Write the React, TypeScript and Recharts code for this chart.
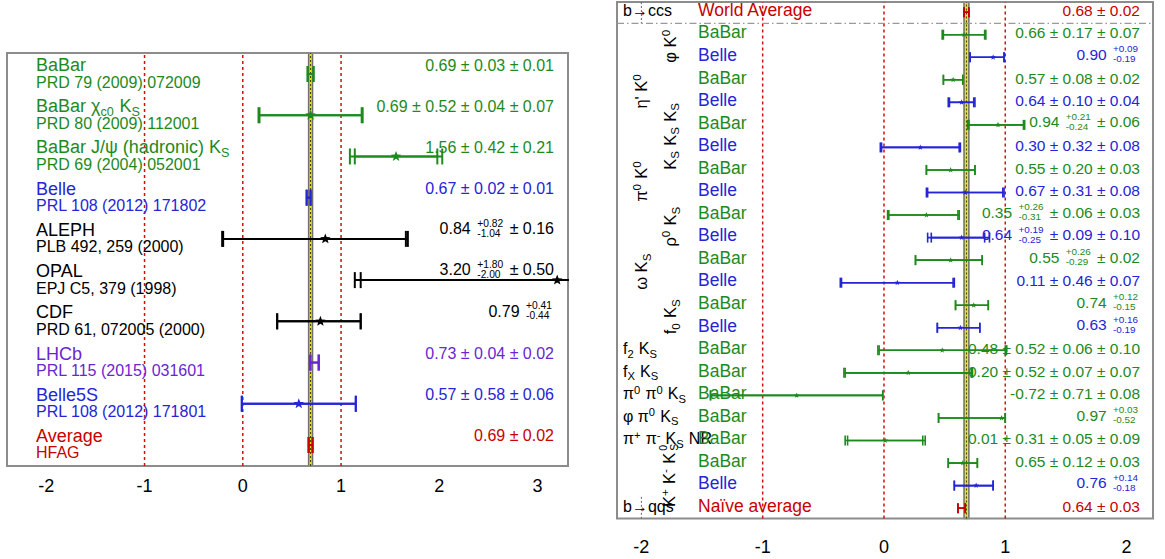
import React from "react";
import {
  ScatterChart,
  Scatter,
  XAxis,
  YAxis,
  ErrorBar,
  ReferenceLine,
  ReferenceArea,
} from "recharts";

// ---------- left panel data ----------
const leftNames = [
  "BaBar",
  "BaBar χ_{c0} K_{S}",
  "BaBar J/ψ (hadronic) K_{S}",
  "Belle",
  "ALEPH",
  "OPAL",
  "CDF",
  "LHCb",
  "Belle5S",
  "Average",
];
const leftRefs = [
  "PRD 79 (2009) 072009",
  "PRD 80 (2009) 112001",
  "PRD 69 (2004) 052001",
  "PRL 108 (2012) 171802",
  "PLB 492, 259 (2000)",
  "EPJ C5, 379 (1998)",
  "PRD 61, 072005 (2000)",
  "PRL 115 (2015) 031601",
  "PRL 108 (2012) 171801",
  "HFAG",
];
const leftValues = [0.69, 0.69, 1.56, 0.67, 0.84, 3.2, 0.79, 0.73, 0.57, 0.69];
// [minus, plus]
const leftStatErr = [
  [0.03, 0.03], [0.52, 0.52], [0.42, 0.42], [0.02, 0.02], [1.04, 0.82],
  [2.0, 1.8], [0.44, 0.41], [0.04, 0.04], [0.58, 0.58], [0.02, 0.02],
];
const leftTotalErr = [
  [0.03, 0.03], [0.53, 0.53], [0.47, 0.47], [0.02, 0.02], [1.05, 0.84],
  [2.06, 1.87], [0.44, 0.41], [0.045, 0.045], [0.58, 0.58], [0.02, 0.02],
];
const leftTexts = [
  "0.69 ± 0.03 ± 0.01",
  "0.69 ± 0.52 ± 0.04 ± 0.07",
  "1.56 ± 0.42 ± 0.21",
  "0.67 ± 0.02 ± 0.01",
  "0.84 ^{+0.82}_{-1.04} ± 0.16",
  "3.20 ^{+1.80}_{-2.00} ± 0.50",
  "0.79 ^{+0.41}_{-0.44}",
  "0.73 ± 0.04 ± 0.02",
  "0.57 ± 0.58 ± 0.06",
  "0.69 ± 0.02",
];
const leftTicks = [-2, -1, 0, 1, 2, 3];
const leftAverage = [0.67, 0.69, 0.71];

// ---------- right panel data ----------
const rightModes = [
  "b→ccs",
  "φ K^{0}", "φ K^{0}",
  "η' K^{0}", "η' K^{0}",
  "K_{S} K_{S} K_{S}", "K_{S} K_{S} K_{S}",
  "π^{0} K^{0}", "π^{0} K^{0}",
  "ρ^{0} K_{S}", "ρ^{0} K_{S}",
  "ω K_{S}", "ω K_{S}",
  "f_{0} K_{S}", "f_{0} K_{S}",
  "f_{2} K_{S}",
  "f_{X} K_{S}",
  "π^{0} π^{0} K_{S}",
  "φ π^{0} K_{S}",
  "π^{+} π^{-} K_{S} NR",
  "K^{+} K^{-} K^{0}_{S}", "K^{+} K^{-} K^{0}_{S}",
  "b→qqs",
];
const rightExperiments = [
  "World Average",
  "BaBar", "Belle", "BaBar", "Belle", "BaBar", "Belle", "BaBar", "Belle",
  "BaBar", "Belle", "BaBar", "Belle", "BaBar", "Belle",
  "BaBar", "BaBar", "BaBar", "BaBar", "BaBar",
  "BaBar", "Belle",
  "Naïve average",
];
const rightValues = [
  0.68, 0.66, 0.9, 0.57, 0.64, 0.94, 0.3, 0.55, 0.67, 0.35, 0.64, 0.55,
  0.11, 0.74, 0.63, 0.48, 0.2, -0.72, 0.97, 0.01, 0.65, 0.76, 0.64,
];
const rightStatErr = [
  [0.02, 0.02], [0.17, 0.17], [0.19, 0.09], [0.08, 0.08], [0.1, 0.1],
  [0.24, 0.21], [0.32, 0.32], [0.2, 0.2], [0.31, 0.31], [0.31, 0.26],
  [0.25, 0.19], [0.29, 0.26], [0.46, 0.46], [0.15, 0.12], [0.19, 0.16],
  [0.52, 0.52], [0.52, 0.52], [0.71, 0.71], [0.52, 0.03], [0.31, 0.31],
  [0.12, 0.12], [0.18, 0.14], [0.03, 0.03],
];
const rightTotalErr = [
  [0.02, 0.02], [0.18, 0.18], [0.19, 0.09], [0.08, 0.08], [0.11, 0.11],
  [0.25, 0.22], [0.33, 0.33], [0.2, 0.2], [0.32, 0.32], [0.32, 0.27],
  [0.28, 0.23], [0.29, 0.26], [0.47, 0.47], [0.15, 0.12], [0.19, 0.16],
  [0.53, 0.53], [0.53, 0.53], [0.71, 0.71], [0.52, 0.03], [0.33, 0.33],
  [0.12, 0.12], [0.18, 0.14], [0.03, 0.03],
];
const rightTexts = [
  "0.68 ± 0.02",
  "0.66 ± 0.17 ± 0.07",
  "0.90 ^{+0.09}_{-0.19}",
  "0.57 ± 0.08 ± 0.02",
  "0.64 ± 0.10 ± 0.04",
  "0.94 ^{+0.21}_{-0.24} ± 0.06",
  "0.30 ± 0.32 ± 0.08",
  "0.55 ± 0.20 ± 0.03",
  "0.67 ± 0.31 ± 0.08",
  "0.35 ^{+0.26}_{-0.31} ± 0.06 ± 0.03",
  "0.64 ^{+0.19}_{-0.25} ± 0.09 ± 0.10",
  "0.55 ^{+0.26}_{-0.29} ± 0.02",
  "0.11 ± 0.46 ± 0.07",
  "0.74 ^{+0.12}_{-0.15}",
  "0.63 ^{+0.16}_{-0.19}",
  "0.48 ± 0.52 ± 0.06 ± 0.10",
  "0.20 ± 0.52 ± 0.07 ± 0.07",
  "-0.72 ± 0.71 ± 0.08",
  "0.97 ^{+0.03}_{-0.52}",
  "0.01 ± 0.31 ± 0.05 ± 0.09",
  "0.65 ± 0.12 ± 0.03",
  "0.76 ^{+0.14}_{-0.18}",
  "0.64 ± 0.03",
];
const rightTicks = [-2, -1, 0, 1, 2];
const rightAverage = [0.66, 0.68, 0.7];

// ---------- style ----------
const FONT = '"Liberation Sans", Arial, Helvetica, sans-serif';
const GREEN = "#1d8a1d";
const BLUE = "#2525d6";
const PURPLE = "#6a26d2";
const RED = "#c80000";
const BLACK = "#000000";
const FRAME = "#8c8c8c";
const DASH_RED = "#d21010";
const OUTER_MODES = new Set(["η' K^{0}", "π^{0} K^{0}", "ω K_{S}"]);
// mirrored left axes are stacked by their default width
const AXIS_W = 60;

const colorOf = (name: string) => {
  if (name.startsWith("BaBar")) return GREEN;
  if (name.startsWith("Belle")) return BLUE;
  if (name.startsWith("LHCb")) return PURPLE;
  if (/average/i.test(name)) return RED;
  return BLACK;
};

const leftRows = leftNames.map((name, i) => ({
  name,
  ref: leftRefs[i],
  x: leftValues[i],
  y: i,
  stat: leftStatErr[i],
  tot: leftTotalErr[i],
  text: leftTexts[i],
  color: colorOf(name),
}));

const rightRows = rightExperiments.map((name, i) => ({
  name,
  mode: rightModes[i],
  x: rightValues[i],
  y: i,
  stat: rightStatErr[i],
  tot: rightTotalErr[i],
  text: rightTexts[i],
  color: colorOf(name),
}));

type Group = { mode: string; first: number; last: number };
const rightGroups: Group[] = [];
rightModes.forEach((m, i) => {
  const g = rightGroups[rightGroups.length - 1];
  if (g && g.mode === m) g.last = i;
  else rightGroups.push({ mode: m, first: i, last: i });
});
const groupCenter = (g: Group) => (g.first + g.last) / 2;

// ---------- tiny TLatex-ish markup ----------
const supStyle: React.CSSProperties = { fontSize: "0.7em", position: "relative", top: "-0.5em", lineHeight: 0, marginRight: "0.06em" };
const subStyle: React.CSSProperties = { fontSize: "0.7em", position: "relative", top: "0.3em", lineHeight: 0, marginRight: "0.06em" };
const stackStyle: React.CSSProperties = {
  display: "inline-flex",
  flexDirection: "column",
  fontSize: "0.64em",
  lineHeight: 1.0,
  verticalAlign: "middle",
  margin: "0 0.2em",
  position: "relative",
  top: "-0.15em",
};

function readGroup(s: string, j: number): [string, number] {
  let depth = 0;
  for (let m = j; m < s.length; m++) {
    if (s[m] === "{") depth++;
    else if (s[m] === "}") {
      depth--;
      if (depth === 0) return [s.slice(j + 1, m), m + 1];
    }
  }
  return [s.slice(j + 1), s.length];
}

function tex(s: string): React.ReactNode[] {
  const out: React.ReactNode[] = [];
  let buf = "";
  let i = 0;
  let k = 0;
  while (i < s.length) {
    const c = s[i];
    if ((c === "^" || c === "_") && s[i + 1] === "{") {
      if (buf) out.push(buf);
      buf = "";
      const [g1, n1] = readGroup(s, i + 1);
      const other = c === "^" ? "_" : "^";
      if (s[n1] === other && s[n1 + 1] === "{") {
        const [g2, n2] = readGroup(s, n1 + 1);
        const sup = c === "^" ? g1 : g2;
        const sub = c === "^" ? g2 : g1;
        out.push(
          <span key={k++} style={stackStyle}>
            <span>{sup}</span>
            <span>{sub}</span>
          </span>
        );
        i = n2;
      } else {
        out.push(
          <span key={k++} style={c === "^" ? supStyle : subStyle}>
            {g1}
          </span>
        );
        i = n1;
      }
    } else {
      buf += c;
      i++;
    }
  }
  if (buf) out.push(buf);
  return out;
}

function Html(props: {
  x: number;
  y: number;
  anchor: "start" | "end" | "middle";
  size: number;
  color: string;
  children: React.ReactNode;
}) {
  const { x, y, anchor, size, color, children } = props;
  const w = 440;
  const h = 36;
  const left = anchor === "start" ? x : anchor === "end" ? x - w : x - w / 2;
  return (
    <foreignObject x={left} y={y - h / 2} width={w} height={h}>
      <div
        style={{
          width: w,
          height: h,
          display: "flex",
          alignItems: "center",
          justifyContent: anchor === "start" ? "flex-start" : anchor === "end" ? "flex-end" : "center",
          fontFamily: FONT,
          fontSize: size,
          color,
          whiteSpace: "nowrap",
          lineHeight: 1,
        }}
      >
        <span>{children}</span>
      </div>
    </foreignObject>
  );
}

function starPath(cx: number, cy: number, r: number) {
  let d = "";
  for (let k = 0; k < 10; k++) {
    const rr = k % 2 === 0 ? r : r * 0.42;
    const a = -Math.PI / 2 + (k * Math.PI) / 5;
    d += (k === 0 ? "M" : "L") + (cx + rr * Math.cos(a)).toFixed(2) + "," + (cy + rr * Math.sin(a)).toFixed(2);
  }
  return d + "Z";
}

const makeStar = (r: number, color: string, show: boolean) => (p: any) =>
  show && p.cx != null ? <path d={starPath(p.cx, p.cy, r)} fill={color} /> : <g />;

// ---------- ticks ----------
const LeftNameTick = (p: any) => {
  const r = leftRows[Math.round(p.payload.value)];
  if (!r) return null;
  return (
    <g>
      <Html x={p.x + 29} y={p.y - 9} anchor="start" size={18} color={r.color}>
        {tex(r.name)}
      </Html>
      <Html x={p.x + 29} y={p.y + 8.5} anchor="start" size={16} color={r.color}>
        {r.ref}
      </Html>
    </g>
  );
};

const LeftValueTick = (p: any) => {
  const r = leftRows[Math.round(p.payload.value)];
  if (!r) return null;
  return (
    <Html x={p.x - 14} y={p.y - 8.5} anchor="end" size={16} color={r.color}>
      {tex(r.text)}
    </Html>
  );
};

// names axis is the second mirrored left axis, so it sits AXIS_W to the right
const RightNameTick = (p: any) => {
  const r = rightRows[Math.round(p.payload.value)];
  if (!r) return null;
  return (
    <Html x={p.x - AXIS_W + 81} y={p.y - 1.5} anchor="start" size={17.5} color={r.color}>
      {r.name}
    </Html>
  );
};

const RightValueTick = (p: any) => {
  const r = rightRows[Math.round(p.payload.value)];
  if (!r) return null;
  return (
    <Html x={p.x - 13} y={p.y - 1.5} anchor="end" size={15.5} color={r.color}>
      {tex(r.text)}
    </Html>
  );
};

const RightModeTick = (p: any) => {
  const g = rightGroups.find((gg) => Math.abs(groupCenter(gg) - p.payload.value) < 1e-6);
  if (!g) return null;
  if (g.last > g.first) {
    const cx = p.x + (OUTER_MODES.has(g.mode) ? 24 : 53);
    return (
      <g transform={`rotate(-90 ${cx} ${p.y})`}>
        <Html x={cx} y={p.y} anchor="middle" size={16.5} color={BLACK}>
          {tex(g.mode)}
        </Html>
      </g>
    );
  }
  return (
    <Html x={p.x + 6} y={p.y - 1} anchor="start" size={16} color={BLACK}>
      {tex(g.mode)}
    </Html>
  );
};

// ---------- charts ----------
const LEFT_X: [number, number] = [-2.4, 3.31];
const LEFT_Y: [number, number] = [-0.51, 9.51];
const RIGHT_X: [number, number] = [-2.201, 2.218];
const RIGHT_Y: [number, number] = [-0.45, 22.46];

function LeftPanel() {
  const rowTicks = leftRows.map((r) => r.y);
  return (
    <ScatterChart width={600} height={559} margin={{ top: 53, left: 7, right: 32, bottom: 53 }}>
      <XAxis
        xAxisId="x"
        type="number"
        dataKey="x"
        domain={LEFT_X}
        allowDataOverflow
        ticks={leftTicks}
        interval={0}
        axisLine={false}
        tickLine={false}
        tickSize={0}
        tickMargin={13}
        height={40}
        tick={{ fill: BLACK, fontSize: 18, fontFamily: FONT }}
      />
      <XAxis
        xAxisId="m"
        type="number"
        orientation="bottom"
        mirror
        domain={LEFT_X}
        allowDataOverflow
        ticks={leftTicks}
        interval={0}
        axisLine={false}
        tick={false}
        tickSize={5}
        tickLine={{ stroke: FRAME, strokeWidth: 1.5 }}
      />
      <YAxis yAxisId="y" type="number" dataKey="y" domain={LEFT_Y} reversed allowDataOverflow hide />
      <YAxis
        yAxisId="names"
        type="number"
        domain={LEFT_Y}
        reversed
        allowDataOverflow
        mirror
        ticks={rowTicks}
        interval={0}
        axisLine={false}
        tickLine={false}
        tickSize={0}
        tickMargin={0}
        tick={<LeftNameTick />}
      />
      <YAxis
        yAxisId="vals"
        orientation="right"
        type="number"
        domain={LEFT_Y}
        reversed
        allowDataOverflow
        mirror
        ticks={rowTicks}
        interval={0}
        axisLine={false}
        tickLine={false}
        tickSize={0}
        tickMargin={0}
        tick={<LeftValueTick />}
      />
      <ReferenceArea
        xAxisId="x"
        yAxisId="y"
        x1={leftAverage[0]}
        x2={leftAverage[2]}
        fill="#e9e21c"
        fillOpacity={1}
        stroke="#6f6f6f"
        strokeWidth={1.5}
      />
      <ReferenceLine xAxisId="x" yAxisId="y" x={leftAverage[1]} stroke="#3a3a00" strokeDasharray="2 2" strokeWidth={1} />
      {[-1, 0, 1].map((v) => (
        <ReferenceLine key={v} xAxisId="x" yAxisId="y" x={v} stroke={DASH_RED} strokeDasharray="3 3" strokeWidth={1.5} />
      ))}
      {leftRows.map((r, i) => (
        <Scatter
          key={i}
          xAxisId="x"
          yAxisId="y"
          data={[r]}
          fill={r.color}
          isAnimationActive={false}
          shape={makeStar(5.5, r.color, r.tot[0] + r.tot[1] > 0.1)}
        >
          <ErrorBar dataKey="tot" direction="x" width={8} stroke={r.color} strokeWidth={2} />
          <ErrorBar dataKey="stat" direction="x" width={8} stroke={r.color} strokeWidth={2} />
        </Scatter>
      ))}
      <ReferenceArea
        xAxisId="x"
        yAxisId="y"
        x1={LEFT_X[0]}
        x2={LEFT_X[1]}
        y1={LEFT_Y[0]}
        y2={LEFT_Y[1]}
        fill="none"
        fillOpacity={0}
        stroke={FRAME}
        strokeWidth={2}
      />
    </ScatterChart>
  );
}

function RightPanel() {
  const rowTicks = rightRows.map((r) => r.y);
  const modeTicks = rightGroups.map(groupCenter);
  const n = rightRows.length;
  return (
    <ScatterChart width={565} height={559} margin={{ top: 2, left: 17, right: 12, bottom: 10.5 }}>
      <XAxis
        xAxisId="x"
        type="number"
        dataKey="x"
        domain={RIGHT_X}
        allowDataOverflow
        ticks={rightTicks}
        interval={0}
        axisLine={false}
        tickLine={false}
        tickSize={0}
        tickMargin={22}
        height={30}
        tick={{ fill: BLACK, fontSize: 18, fontFamily: FONT }}
      />
      <XAxis
        xAxisId="m"
        type="number"
        orientation="bottom"
        mirror
        domain={RIGHT_X}
        allowDataOverflow
        ticks={rightTicks}
        interval={0}
        axisLine={false}
        tick={false}
        tickSize={5}
        tickLine={{ stroke: FRAME, strokeWidth: 1.5 }}
      />
      <YAxis yAxisId="y" type="number" dataKey="y" domain={RIGHT_Y} reversed allowDataOverflow hide />
      <YAxis
        yAxisId="modes"
        type="number"
        domain={RIGHT_Y}
        reversed
        allowDataOverflow
        mirror
        ticks={modeTicks}
        interval={0}
        axisLine={false}
        tickLine={false}
        tickSize={0}
        tickMargin={0}
        tick={<RightModeTick />}
      />
      <YAxis
        yAxisId="names"
        type="number"
        domain={RIGHT_Y}
        reversed
        allowDataOverflow
        mirror
        ticks={rowTicks}
        interval={0}
        axisLine={false}
        tickLine={false}
        tickSize={0}
        tickMargin={0}
        tick={<RightNameTick />}
      />
      <YAxis
        yAxisId="vals"
        orientation="right"
        type="number"
        domain={RIGHT_Y}
        reversed
        allowDataOverflow
        mirror
        ticks={rowTicks}
        interval={0}
        axisLine={false}
        tickLine={false}
        tickSize={0}
        tickMargin={0}
        tick={<RightValueTick />}
      />
      <ReferenceArea
        xAxisId="x"
        yAxisId="y"
        x1={rightAverage[0]}
        x2={rightAverage[2]}
        fill="#e9e21c"
        fillOpacity={1}
        stroke="#6f6f6f"
        strokeWidth={1.5}
      />
      <ReferenceLine xAxisId="x" yAxisId="y" x={rightAverage[1]} stroke="#3a3a00" strokeDasharray="2 2" strokeWidth={1} />
      {[-1, 0, 1].map((v) => (
        <ReferenceLine key={v} xAxisId="x" yAxisId="y" x={v} stroke={DASH_RED} strokeDasharray="3 3" strokeWidth={1.5} />
      ))}
      <ReferenceLine xAxisId="x" yAxisId="y" y={0.5} stroke="#9a9a9a" strokeDasharray="7 3 1.5 3" strokeWidth={1.2} />
      <ReferenceLine
        xAxisId="x"
        yAxisId="y"
        segment={[{ x: -2, y: RIGHT_Y[0] }, { x: -2, y: 0.5 }]}
        stroke="#666"
        strokeDasharray="2 2"
      />
      <ReferenceLine
        xAxisId="x"
        yAxisId="y"
        segment={[{ x: -2, y: n - 1.5 }, { x: -2, y: RIGHT_Y[1] }]}
        stroke="#666"
        strokeDasharray="2 2"
      />
      {rightRows.map((r, i) => (
        <Scatter
          key={i}
          xAxisId="x"
          yAxisId="y"
          data={[r]}
          fill={r.color}
          isAnimationActive={false}
          shape={makeStar(3, r.color, !/average/i.test(r.name))}
        >
          <ErrorBar dataKey="tot" direction="x" width={5} stroke={r.color} strokeWidth={1.6} />
          <ErrorBar dataKey="stat" direction="x" width={5} stroke={r.color} strokeWidth={1.6} />
        </Scatter>
      ))}
      <ReferenceArea
        xAxisId="x"
        yAxisId="y"
        x1={RIGHT_X[0]}
        x2={RIGHT_X[1]}
        y1={RIGHT_Y[0]}
        y2={RIGHT_Y[1]}
        fill="none"
        fillOpacity={0}
        stroke={FRAME}
        strokeWidth={2}
      />
    </ScatterChart>
  );
}

export default function App() {
  return (
    <div
      style={{
        position: "absolute",
        left: 0,
        top: 0,
        width: 1165,
        height: 559,
        background: "#fff",
        overflow: "hidden",
        fontFamily: FONT,
      }}
    >
      {/* clip box keeps OPAL's long error bar inside the frame */}
      <div style={{ position: "absolute", left: 0, top: 0, width: 569, height: 559, overflow: "hidden" }}>
        <LeftPanel />
      </div>
      <div style={{ position: "absolute", left: 600, top: 0 }}>
        <RightPanel />
      </div>
    </div>
  );
}
